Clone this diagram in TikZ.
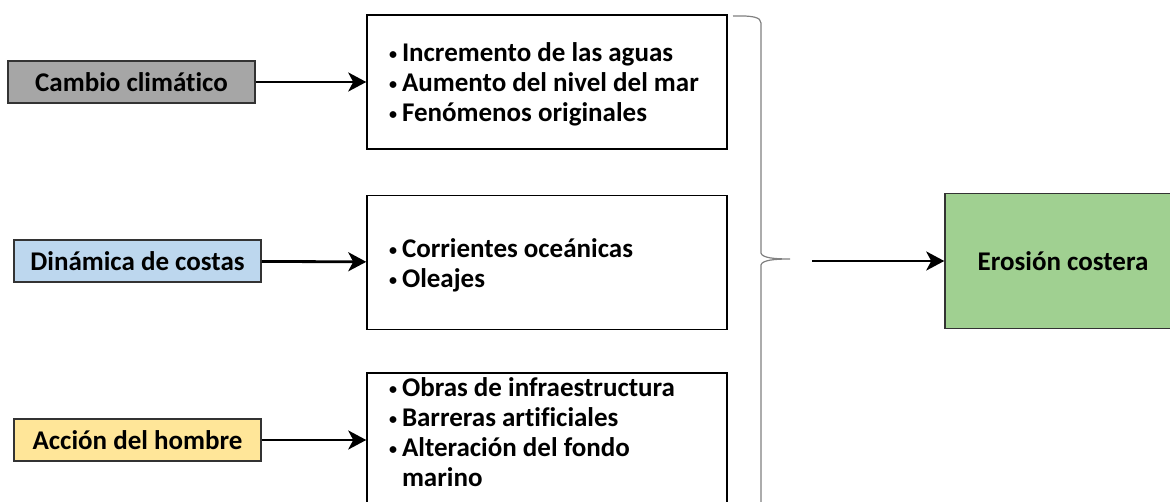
\documentclass[tikz,border=0pt]{standalone}
\usepackage{fontspec}
\setmainfont{Carlito}[Ligatures=NoCommon]
\usepackage{tikz}
\usetikzlibrary{arrows.meta}
\usetikzlibrary{positioning}
\tikzset{>={Stealth[length=18pt,width=19pt,inset=5pt]}}
\definecolor{causegray}{RGB}{166,166,166}
\definecolor{causeblue}{RGB}{189,215,238}
\definecolor{causeyellow}{RGB}{255,230,153}
\definecolor{effectgreen}{RGB}{160,208,145}
\newcommand{\itm}[1]{\makebox[13pt][l]{\fontsize{16}{16}\selectfont\raisebox{2pt}{•}}#1}

\begin{document}
\begin{tikzpicture}[x=1pt, y=1pt, node distance=45pt,
            every node/.style={font=\bfseries\fontsize{27}{30}\selectfont},
            cause/.style={draw=black!80, line width=1.5pt, minimum width=247pt, minimum height=42pt, inner sep=0pt},
            list/.style={draw, line width=1.5pt, text width=316pt, inner xsep=22pt, inner ysep=0pt, minimum height=134pt, text height=24pt, align=flush left},
            link/.style={->, line width=2.8pt}]
            \path [use as bounding box, clip] (0,0) rectangle (1170,501);
            \node [list] (clima) at (547,419) {\itm{Incremento de las aguas}\\ \itm{Aumento del nivel del mar}\\ \itm{Fenómenos originales}};
            \node [list, below=of clima] (costas) {\itm{Corrientes oceánicas}\\ \itm{Oleajes}};
            \node [list, below=42pt of costas, text height=23pt, text depth=160pt] (hombre) {\itm{Obras de infraestructura}\\ \itm{Barreras artificiales}\\ \itm{Alteración del fondo}\\ \hspace*{13pt}marino};
            \node [cause, fill=causegray] (cambio) at (131.5,419) {Cambio climático};
            \node [cause, fill=causeblue] (dinamica) at (137.5,240) {Dinámica de costas};
            \node [cause, fill=causeyellow] (accion) at (137.5,61) {Acción del hombre};
            \draw [link] (cambio) -- (clima);
            \draw [link] (dinamica) -- (costas);
            \draw [link] (accion) -- (accion -| hombre.west);
            \draw [gray, line width=1.2pt] (733,485) .. controls (752,485.5) and (761,484) .. (761,478)
                -- (761,248) .. controls (762,243) and (775,242) .. (790,242)
                .. controls (775,242) and (762,241) .. (761,236) -- (761,-10);
            \node [draw=black!80, line width=1.5pt, fill=effectgreen, minimum width=236pt, minimum height=135pt] (erosion) at (1063,240) {Erosión costera};
            \coordinate (brace) at (812,240);
            \draw [link] (brace) -- (erosion);
        \end{tikzpicture}
\end{document}
